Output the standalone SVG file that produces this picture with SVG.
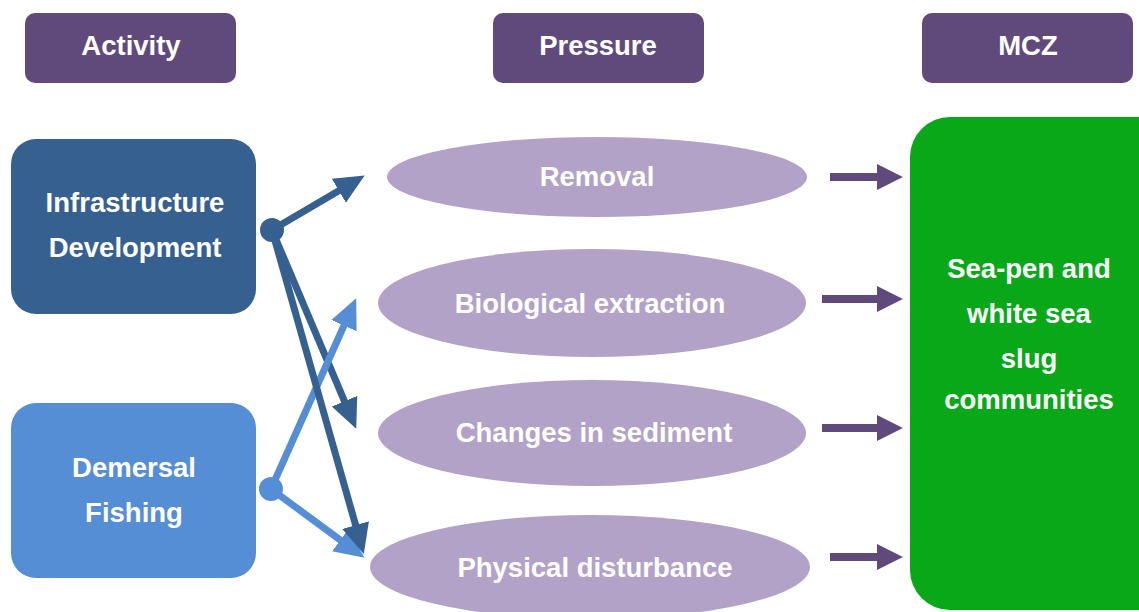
<svg xmlns="http://www.w3.org/2000/svg" width="1139" height="612" viewBox="0 0 1139 612">
<style>
.hdr{fill:#604a7b}
.t{font-family:"Liberation Sans",Arial,sans-serif;font-weight:bold;fill:#fff;text-anchor:middle;font-size:27.5px}
.ell{fill:#b3a2c7}
.dk{stroke:#36608f;stroke-width:7;fill:none}
.lt{stroke:#558ed5;stroke-width:7;fill:none}
.pu{stroke:#604a7b;stroke-width:8;fill:none}
</style>
<defs>
<marker id="mDk" markerUnits="userSpaceOnUse" markerWidth="30" markerHeight="30" viewBox="0 0 26 24" refX="6" refY="12" orient="auto"><path d="M0,0 L26,12 L0,24 Z" fill="#36608f"/></marker>
<marker id="mLt" markerUnits="userSpaceOnUse" markerWidth="30" markerHeight="30" viewBox="0 0 26 24" refX="6" refY="12" orient="auto"><path d="M0,0 L26,12 L0,24 Z" fill="#558ed5"/></marker>
<marker id="mPu" markerUnits="userSpaceOnUse" markerWidth="26" markerHeight="26" viewBox="0 0 24 24" refX="1" refY="12" orient="auto"><path d="M0,0 L24,12 L0,24 Z" fill="#604a7b"/></marker>
</defs>
<rect width="1139" height="612" fill="#fff"/>
<g id="hdr-activity"><rect class="hdr" x="25" y="13" width="211" height="70" rx="10"/><text class="t" x="131" y="55">Activity</text></g>
<g id="hdr-pressure"><rect class="hdr" x="493" y="13" width="211" height="70" rx="10"/><text class="t" x="598" y="55">Pressure</text></g>
<g id="hdr-mcz"><rect class="hdr" x="922" y="13" width="211" height="70" rx="10"/><text class="t" x="1028" y="55">MCZ</text></g>
<g id="infra"><rect x="11" y="139" width="245" height="175" rx="25" fill="#36608f"/><text class="t" x="135" y="212">Infrastructure</text><text class="t" x="135" y="257">Development</text></g>
<g id="demersal"><rect x="11" y="403" width="245" height="175" rx="25" fill="#558ed5"/><text class="t" x="134" y="477">Demersal</text><text class="t" x="134" y="522">Fishing</text></g>
<g id="removal"><ellipse class="ell" cx="597" cy="177" rx="210" ry="40"/><text class="t" x="597" y="186">Removal</text></g>
<g id="bio"><ellipse class="ell" cx="592" cy="303" rx="214" ry="54"/><text class="t" x="590" y="313">Biological extraction</text></g>
<g id="sediment"><ellipse class="ell" cx="592" cy="433" rx="214" ry="53"/><text class="t" x="594" y="442">Changes in sediment</text></g>
<g id="physical"><ellipse class="ell" cx="590" cy="567" rx="220" ry="52"/><text class="t" x="595" y="577">Physical disturbance</text></g>
<g id="mcz"><rect x="910" y="117" width="270" height="493" rx="40" fill="#08a818"/><text class="t" x="1029" y="278">Sea-pen and</text><text class="t" x="1029" y="323">white sea</text><text class="t" x="1029" y="368">slug</text><text class="t" x="1029" y="409">communities</text></g>
<g id="connectors">
<circle cx="272" cy="230" r="12" fill="#36608f"/>
<circle cx="271" cy="489" r="12" fill="#558ed5"/>
<line class="dk" x1="272" y1="230" x2="344.8" y2="187.2" marker-end="url(#mDk)"/>
<line class="dk" x1="272" y1="230" x2="347.2" y2="407.6" marker-end="url(#mDk)"/>
<line class="lt" x1="271" y1="489" x2="346.8" y2="319.3" marker-end="url(#mLt)"/>
<line class="lt" x1="271" y1="489" x2="345.9" y2="544.1" marker-end="url(#mLt)"/>
<line class="dk" x1="272" y1="230" x2="357.5" y2="531.8" marker-end="url(#mDk)"/>
<line class="pu" x1="830" y1="177" x2="878" y2="177" marker-end="url(#mPu)"/>
<line class="pu" x1="822" y1="299" x2="878" y2="299" marker-end="url(#mPu)"/>
<line class="pu" x1="822" y1="428" x2="878" y2="428" marker-end="url(#mPu)"/>
<line class="pu" x1="830" y1="557" x2="878" y2="557" marker-end="url(#mPu)"/>
</g>
</svg>
